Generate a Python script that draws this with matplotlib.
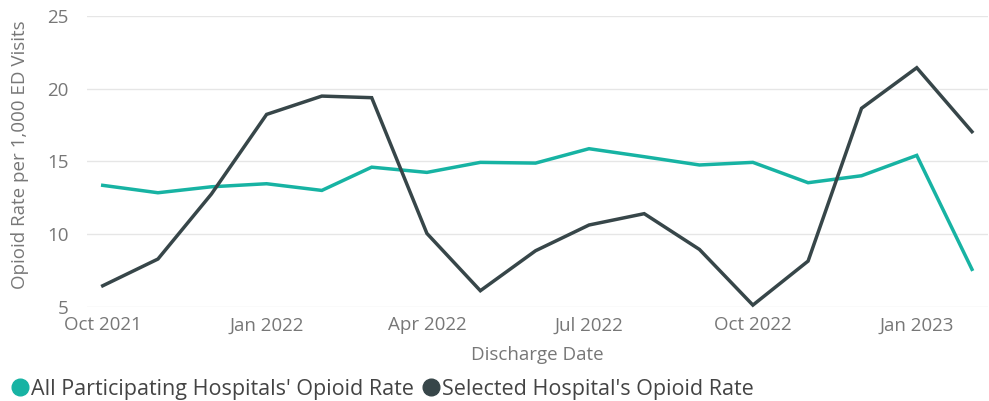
import matplotlib
matplotlib.use("Agg")
import matplotlib.pyplot as plt
from matplotlib.lines import Line2D
import datetime as dt

months = ["2021-10", "2021-11", "2021-12", "2022-01", "2022-02", "2022-03",
          "2022-04", "2022-05", "2022-06", "2022-07", "2022-08", "2022-09",
          "2022-10", "2022-11", "2022-12", "2023-01", "2023-02"]
all_hosp = [13.35, 12.84, 13.25, 13.46, 13.0, 14.6, 14.24, 14.93, 14.88,
            15.87, 15.32, 14.75, 14.93, 13.53, 14.01, 15.41, 7.57]
selected = [6.44, 8.28, 12.75, 18.23, 19.49, 19.38, 10.04, 6.1, 8.85,
            10.62, 11.4, 8.94, 5.11, 8.14, 18.65, 21.44, 17.04]
tick_labels = ["Oct 2021", "Jan 2022", "Apr 2022", "Jul 2022", "Oct 2022", "Jan 2023"]
tick_months = ["2021-10", "2022-01", "2022-04", "2022-07", "2022-10", "2023-01"]
series_names = ["All Participating Hospitals' Opioid Rate", "Selected Hospital's Opioid Rate"]

plt.rcParams['font.family'] = ['Open Sans', 'DejaVu Sans']

dates = [dt.datetime.strptime(m, "%Y-%m") for m in months]
tdates = [dt.datetime.strptime(m, "%Y-%m") for m in tick_months]

c_teal = "#17B3A3"
c_dark = "#374649"
c_text = "#777777"

fig = plt.figure(figsize=(9.89, 4.01), dpi=100)
ax = fig.add_axes([86.7/989, 1-306.7/401, (988-86.7)/989, (306.7-16)/401])

ax.plot(dates, all_hosp, color=c_teal, lw=2.5, solid_joinstyle='miter', clip_on=False, zorder=3)
ax.plot(dates, selected, color=c_dark, lw=2.5, solid_joinstyle='miter', clip_on=False, zorder=3)

ax.set_ylim(5, 25)
ax.set_yticks([5, 10, 15, 20, 25])
ax.set_xlim(dates[0] - dt.timedelta(days=9), dates[-1] + dt.timedelta(days=9))
ax.set_xticks(tdates)
ax.set_xticklabels(tick_labels)
ax.tick_params(axis='both', length=0, labelsize=13.5, labelcolor=c_text)
ax.tick_params(axis='x', pad=7)
ax.tick_params(axis='y', pad=13)
for s in ax.spines.values():
    s.set_visible(False)
ax.grid(axis='y', color="#e6e6e6", lw=1)
ax.set_axisbelow(True)

ax.set_xlabel("Discharge Date", fontsize=13.5, color=c_text, labelpad=8)
ax.set_ylabel("Opioid Rate per 1,000 ED Visits", fontsize=13.5, color=c_text)
ax.yaxis.label.set_verticalalignment('center')
ax.yaxis.set_label_coords((20-86.7)/(988-86.7), (306.7-155)/(306.7-16))

handles = [Line2D([], [], ls='none', marker='o', ms=12, color=c_teal),
           Line2D([], [], ls='none', marker='o', ms=12, color=c_dark)]
fig.legend(handles, series_names, loc='center left', bbox_to_anchor=(0.0, 1-389/401),
           ncol=2, frameon=False, fontsize=15.5, labelcolor="#444444",
           handlelength=0.8, handletextpad=0.1, columnspacing=0.4, borderaxespad=0.15)

fig.savefig("out.png", dpi=100)
